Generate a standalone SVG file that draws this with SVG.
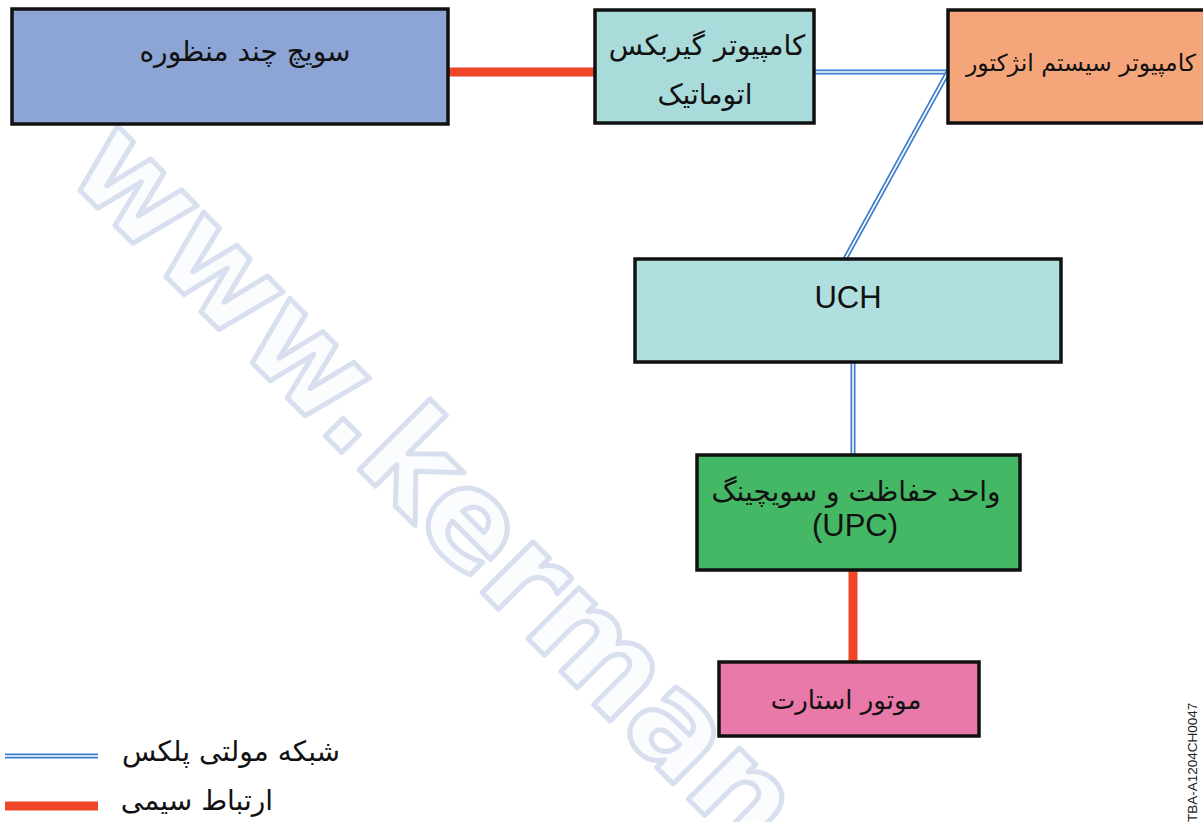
<svg xmlns="http://www.w3.org/2000/svg" width="1203" height="822" viewBox="0 0 1203 822">
<style>
.box{stroke:#111;stroke-width:3.5}
.fa{font-family:"DejaVu Sans","Noto Sans",sans-serif;font-size:28px;fill:#111;text-anchor:middle}
.la{font-family:"Liberation Sans",Arial,sans-serif;font-size:31px;fill:#111;text-anchor:middle}
.wire{stroke:#ee4627;stroke-width:9;fill:none}
.mpo{stroke:#3b7ccc;stroke-width:5;fill:none}
.mpi{stroke:#ffffff;stroke-width:1.6;fill:none}
</style>
<rect x="0" y="0" width="1203" height="822" fill="#ffffff"/>
<g id="watermark" transform="translate(428,485) rotate(45)">
<text x="-478" y="38" font-family="DejaVu Sans, sans-serif" font-weight="bold" font-size="132" fill="#fbfcfe" stroke="#d8e0ef" stroke-width="5" stroke-linejoin="round">www.kerman</text>
</g>
<g id="connectors">
<line class="wire" x1="448" y1="72" x2="596" y2="72"/>
<line class="mpo" x1="814" y1="72" x2="948" y2="72"/>
<line class="mpi" x1="814" y1="72" x2="948" y2="72"/>
<line class="mpo" x1="948" y1="72" x2="845" y2="259"/>
<line class="mpi" x1="948" y1="72" x2="845" y2="259"/>
<line class="mpo" x1="853" y1="362" x2="853" y2="455"/>
<line class="mpi" x1="853" y1="362" x2="853" y2="455"/>
<line class="wire" x1="853" y1="570" x2="853" y2="662"/>
</g>
<g id="node-switch">
<rect class="box" x="12" y="9" width="436" height="115" fill="#8ca5d5"/>
<text class="fa" x="245" y="61">سویچ چند منظوره</text>
</g>
<g id="node-gearbox">
<rect class="box" x="595" y="10" width="219" height="113" fill="#a9dbdb"/>
<text class="fa" x="707" y="55">کامپیوتر گیربکس</text>
<text class="fa" x="705" y="104">اتوماتیک</text>
</g>
<g id="node-injector">
<rect class="box" x="948" y="10" width="260" height="113" fill="#f5a57a"/>
<text class="fa" x="1081" y="71" style="font-size:23.5px">کامپیوتر سیستم انژکتور</text>
</g>
<g id="node-uch">
<rect class="box" x="635" y="259" width="426" height="103" fill="#b0dfdf"/>
<text class="la" x="848" y="308">UCH</text>
</g>
<g id="node-upc">
<rect class="box" x="697" y="455" width="323" height="115" fill="#45b865"/>
<text class="fa" x="856" y="501">واحد حفاظت و سویچینگ</text>
<text class="la" x="855" y="536">(UPC)</text>
</g>
<g id="node-starter">
<rect class="box" x="719" y="662" width="260" height="74" fill="#e879a8"/>
<text class="fa" x="846" y="709" style="font-size:26px">موتور استارت</text>
</g>
<g id="legend">
<line class="mpo" x1="5" y1="756" x2="98" y2="756"/>
<line class="mpi" x1="5" y1="756" x2="98" y2="756"/>
<text class="fa" x="231" y="761">شبکه مولتی پلکس</text>
<line class="wire" x1="5" y1="806" x2="98" y2="806"/>
<text class="fa" x="197" y="810">ارتباط سیمی</text>
</g>
<text transform="translate(1197,822) rotate(-90)" font-family="Liberation Sans, Arial, sans-serif" font-size="13.5" fill="#222">TBA-A1204CH0047</text>
</svg>
